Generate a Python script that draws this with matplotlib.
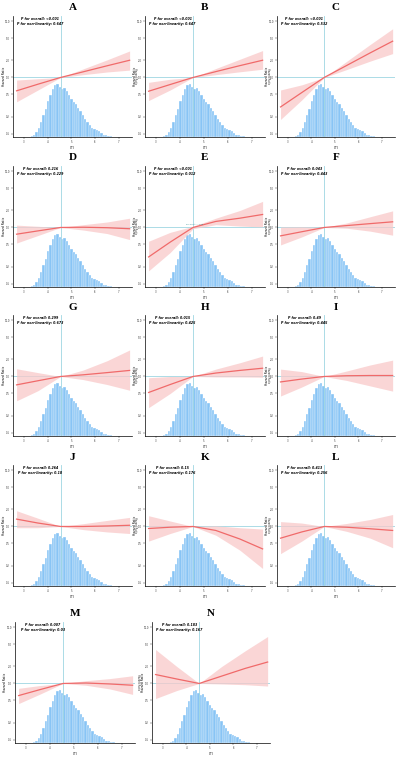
import numpy as np
import matplotlib
matplotlib.use("Agg")
import matplotlib.pyplot as plt

# ---- data ----
panels = list("ABCDEFGHIJKLMN")
p_overall = ["<0.001", "<0.001", "<0.001", "0.216", "<0.001", "0.043", "0.299",
             "0.015", "0.49", "0.264", "0.15", "0.413", "0.007", "0.183"]
p_nonlin = ["0.647", "0.647", "0.532", "0.229", "0.012", "0.443", "0.673",
            "0.425", "0.445", "0.18", "0.176", "0.256", "0.03", "0.167"]

cti_grid = [2.7, 3.6, 4.55, 5.5, 6.5, 7.45]
ref_cti = 4.55

hr = {
    "A": [0.58, 0.76, 1.0, 1.26, 1.61, 2.02],
    "B": [0.57, 0.75, 1.0, 1.27, 1.62, 2.02],
    "C": [0.30, 0.54, 1.0, 1.63, 2.73, 4.4],
    "D": [0.76, 0.87, 1.0, 1.01, 0.99, 0.95],
    "E": [0.30, 0.55, 1.0, 1.28, 1.46, 1.70],
    "F": [0.71, 0.84, 1.0, 1.08, 1.17, 1.26],
    "G": [0.71, 0.84, 1.0, 1.07, 1.17, 1.28],
    "H": [0.52, 0.72, 1.0, 1.15, 1.28, 1.40],
    "I": [0.80, 0.90, 1.0, 1.03, 1.04, 1.04],
    "J": [1.35, 1.15, 1.0, 1.0, 1.02, 1.05],
    "K": [0.92, 0.97, 1.0, 0.85, 0.60, 0.40],
    "L": [0.62, 0.80, 1.0, 0.97, 0.91, 0.85],
    "M": [0.61, 0.78, 1.0, 1.02, 0.98, 0.93],
    "N": [1.44, 1.20, 1.0, 1.35, 1.85, 2.4],
}
hr_lo = {
    "A": [0.37, 0.60, 1.0, 1.12, 1.25, 1.35],
    "B": [0.39, 0.60, 1.0, 1.12, 1.26, 1.40],
    "C": [0.18, 0.40, 1.0, 1.38, 1.95, 2.65],
    "D": [0.53, 0.72, 1.0, 0.90, 0.78, 0.61],
    "E": [0.17, 0.36, 0.95, 1.12, 1.06, 1.02],
    "F": [0.49, 0.68, 1.0, 0.97, 0.86, 0.73],
    "G": [0.37, 0.56, 1.0, 0.88, 0.72, 0.57],
    "H": [0.28, 0.50, 1.0, 0.98, 0.98, 0.97],
    "I": [0.45, 0.65, 1.0, 0.85, 0.68, 0.55],
    "J": [0.95, 0.95, 1.0, 0.88, 0.80, 0.75],
    "K": [0.55, 0.75, 1.0, 0.70, 0.38, 0.18],
    "L": [0.33, 0.55, 1.0, 0.82, 0.62, 0.42],
    "M": [0.44, 0.65, 1.0, 0.93, 0.80, 0.64],
    "N": [0.54, 0.75, 1.0, 0.98, 0.95, 0.90],
}
hr_hi = {
    "A": [0.90, 0.95, 1.0, 1.42, 2.05, 2.95],
    "B": [0.82, 0.93, 1.0, 1.44, 2.10, 3.0],
    "C": [0.60, 0.74, 1.0, 1.93, 3.85, 7.3],
    "D": [1.10, 1.05, 1.0, 1.12, 1.25, 1.46],
    "E": [0.57, 0.82, 1.05, 1.46, 2.0, 2.9],
    "F": [1.02, 1.03, 1.0, 1.20, 1.55, 1.97],
    "G": [1.37, 1.17, 1.0, 1.30, 1.90, 2.95],
    "H": [0.95, 1.0, 1.0, 1.35, 1.75, 2.3],
    "I": [1.35, 1.22, 1.0, 1.25, 1.60, 1.95],
    "J": [1.90, 1.40, 1.0, 1.12, 1.28, 1.45],
    "K": [1.55, 1.25, 1.0, 1.03, 0.95, 0.90],
    "L": [1.22, 1.15, 1.0, 1.13, 1.33, 1.63],
    "M": [0.82, 0.92, 1.0, 1.12, 1.22, 1.37],
    "N": [4.0, 2.0, 1.0, 2.0, 3.8, 6.8],
}

# CTI distribution (bar heights, relative)
hist_counts = [2, 7, 15, 27, 45, 65, 85, 107, 125, 143, 155, 160, 150, 143, 147,
               137, 125, 115, 105, 100, 87, 77, 67, 53, 45, 35, 27, 25, 21, 17,
               11, 7, 5, 3, 2, 1, 1]
hist_range = (3.3, 6.9)

x_ticks = [3, 4, 5, 6, 7]
y_ticks = [0.1, 0.2, 0.5, 1.0, 2.0, 5.0, 10.0]
y_tick_labels = ["0.1", "0.2", "0.5", "1.0", "2.0", "5.0", "10.0"]

# ---- layout (pixels) ----
W, H = 400, 763
row_tops = [16, 166, 315, 465, 622]
ax_h = 121
cols = [(13, 132), (145, 265), (277, 395)]
boxes = {}
for i, p in enumerate(panels[:12]):
    r, c = divmod(i, 3)
    boxes[p] = (cols[c][0], row_tops[r], cols[c][1])
boxes["M"] = (15, row_tops[4], 135)
boxes["N"] = (152, row_tops[4], 270)

curve_col = "#F06A6A"
band_col = "#F9C9C9"
ref_col = "#9ED6E2"
hist_col = "#88C4F5"

fig = plt.figure(figsize=(W / 100, H / 100), dpi=100)
edges = np.linspace(hist_range[0], hist_range[1], len(hist_counts) + 1)

for i, p in enumerate(panels):
    left, top, right = boxes[p]
    pos = [left / W, 1 - (top + ax_h) / H, (right - left) / W, ax_h / H]

    axh = fig.add_axes(pos)
    axh.bar(edges[:-1], hist_counts, width=np.diff(edges), align="edge",
            color=hist_col, edgecolor="white", linewidth=0.25)
    axh.set_xlim(2.55, 7.55)
    axh.set_ylim(0, max(hist_counts) / 0.44)
    axh.axis("off")

    ax = fig.add_axes(pos)
    ax.patch.set_alpha(0)
    ax.set_yscale("log")
    ax.set_xlim(2.55, 7.55)
    ax.set_ylim(0.088, 12.3)
    ax.axhline(1.0, color=ref_col, lw=0.6, zorder=1)
    ax.axvline(ref_cti, color=ref_col, lw=0.6, zorder=1)
    ax.fill_between(cti_grid, hr_lo[p], hr_hi[p], color=band_col, alpha=0.75,
                    lw=0, zorder=2)
    ax.plot(cti_grid, hr[p], color=curve_col, lw=0.9, zorder=3)

    ax.set_yticks(y_ticks)
    ax.set_yticklabels(y_tick_labels)
    ax.minorticks_off()
    ax.set_xticks(x_ticks)
    ax.tick_params(labelsize=1.8, length=1.2, width=0.3, pad=1, colors="#333333")
    for s in ["top", "right"]:
        ax.spines[s].set_visible(False)
    for s in ["left", "bottom"]:
        ax.spines[s].set_linewidth(0.5)
    ax.set_xlabel("CTI", fontsize=2.2, labelpad=1.5)
    ax.set_ylabel("Hazard Ratio", fontsize=2.2)
    ax.yaxis.set_label_coords(-7.5 / (right - left), 0.5)

    ax.text(0.23, 0.995, f"P for overall: {p_overall[i]}\nP for non-linearity: {p_nonlin[i]}",
            transform=ax.transAxes, ha="center", va="top", fontsize=2.3,
            fontweight="bold", fontstyle="italic", linespacing=1.3)
    if p == "E":
        ax.text(ref_cti + 0.05, 1.12, "Ref point = 4.55", fontsize=1.5,
                color="#2A8C8C", ha="center", va="bottom")

    fig.text((left + right) / 2 / W, 1 - (top - 8) / H, p, ha="center",
             va="center", fontsize=8, fontweight="bold", family="Liberation Serif")
    if p not in ("C", "F", "I", "L", "N"):
        fig.text((right + 1) / W, 1 - (top + 0.5 * ax_h) / H, "Hazard Ratio",
                 rotation=270, fontsize=1.8, ha="left", va="center", color="#333333")

fig.savefig("out.png", dpi=100)
